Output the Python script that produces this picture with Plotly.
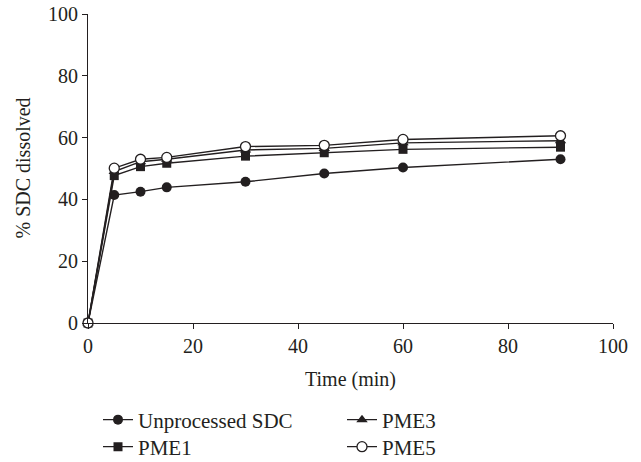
import plotly.graph_objects as go

time_min = [0, 5, 10, 15, 30, 45, 60, 90]
unprocessed = [0, 41.4, 42.5, 43.9, 45.7, 48.4, 50.3, 53.0]
pme1 = [0, 47.7, 50.6, 51.7, 54.0, 55.1, 56.2, 56.9]
pme3 = [0, 49.0, 52.2, 53.0, 56.0, 56.5, 58.3, 59.0]
pme5 = [0, 50.1, 53.0, 53.6, 57.1, 57.5, 59.4, 60.6]

series_names = ["Unprocessed SDC", "PME1", "PME3", "PME5"]
x_ticks = [0, 20, 40, 60, 80, 100]
y_ticks = [0, 20, 40, 60, 80, 100]
x_title = "Time (min)"
y_title = "% SDC dissolved"

INK = "#231f20"
FONT = "Liberation Serif"
W, H = 641, 462
FS = 20

styles = [
    dict(symbol="circle", size=10, color=INK, line=dict(width=0)),
    dict(symbol="square", size=9, color=INK, line=dict(width=0)),
    dict(symbol="triangle-up", size=10, color=INK, line=dict(width=0)),
    dict(symbol="circle", size=10, color="white", line=dict(width=1.3, color=INK)),
]
legend_ids = ["legend", "legend2", "legend3", "legend4"]

fig = go.Figure()
for name, vals, st, lg in zip(series_names, [unprocessed, pme1, pme3, pme5], styles, legend_ids):
    fig.add_trace(go.Scatter(
        x=time_min, y=vals, name=name, mode="lines+markers",
        line=dict(color=INK, width=1.4),
        marker=st, cliponaxis=False, legend=lg,
    ))

leg_common = dict(xref="container", yref="container", xanchor="left", yanchor="middle",
                  font=dict(family=FONT, size=21, color=INK), bgcolor="rgba(0,0,0,0)",
                  borderwidth=0, itemwidth=30)
pos = {"legend": (98, 420), "legend2": (98, 447), "legend3": (342, 420), "legend4": (342, 447)}
for lg, (px, py) in pos.items():
    fig.update_layout(**{lg: dict(x=px / W, y=1 - py / H, **leg_common)})

axis_common = dict(
    showgrid=False, zeroline=False, showline=True, linecolor=INK, linewidth=1.2,
    ticks="outside", ticklen=5, tickcolor=INK, tickwidth=1.2, automargin=False,
    tickfont=dict(family=FONT, size=FS, color=INK),
)
fig.update_xaxes(range=[0, 100], tickvals=x_ticks, ticktext=[str(v) for v in x_ticks],
                 title=dict(text=x_title, font=dict(family=FONT, size=FS, color=INK)),
                 **axis_common)
fig.update_yaxes(range=[0, 100], tickvals=y_ticks, ticktext=[str(v) for v in y_ticks],
                 **axis_common)

# y-axis title as rotated annotation
plot_w = W - 88 - 28
fig.add_annotation(
    text=y_title, xref="paper", yref="paper", x=(22 - 88) / plot_w, y=0.5,
    xanchor="center", yanchor="middle", textangle=-90, showarrow=False,
    font=dict(family=FONT, size=FS, color=INK),
)

fig.update_layout(
    width=W, height=H,
    margin=dict(l=88, r=28, t=14, b=139, autoexpand=False),
    plot_bgcolor="white", paper_bgcolor="white",
    showlegend=True,
    font=dict(family=FONT, color=INK),
)
fig.write_html("out.html", config={"displayModeBar": False},
               post_script="document.body.style.margin='0';")
